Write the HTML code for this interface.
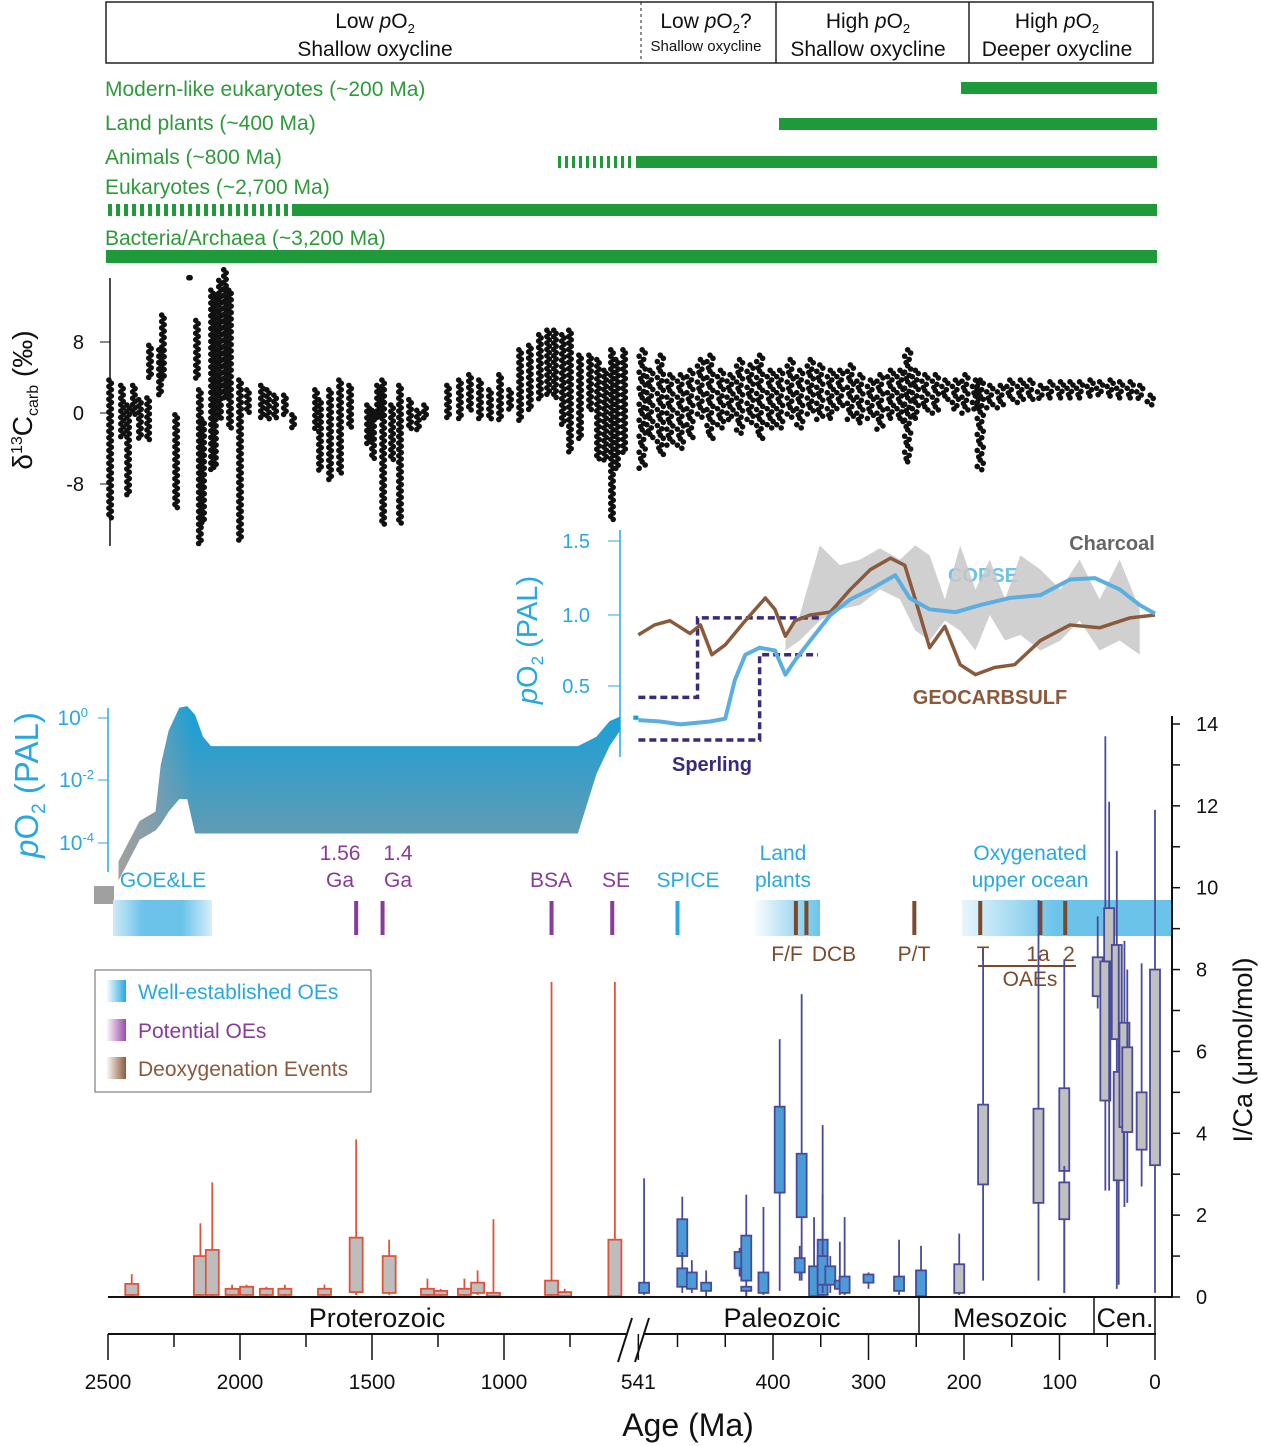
<!DOCTYPE html>
<html><head><meta charset="utf-8"><style>
html,body{margin:0;padding:0;background:#fff;}
svg{display:block;font-family:"Liberation Sans",sans-serif;}
</style></head><body>
<svg id="c" width="1261" height="1446" viewBox="0 0 1261 1446" xmlns="http://www.w3.org/2000/svg">
<defs>
<linearGradient id="pg" x1="0" y1="0" x2="0" y2="1"><stop offset="0" stop-color="#14a0d8"/><stop offset="1" stop-color="#7d9aa8"/></linearGradient>
<linearGradient id="gl" x1="0" y1="0" x2="1" y2="0"><stop offset="0" stop-color="#a0a0a0"/><stop offset="0.15" stop-color="#a0a0a0" stop-opacity="0"/></linearGradient>
<linearGradient id="oeA" x1="0" y1="0" x2="1" y2="0"><stop offset="0" stop-color="#cfeaf7"/><stop offset="0.3" stop-color="#6cc3ea"/><stop offset="0.7" stop-color="#6cc3ea"/><stop offset="1" stop-color="#d8eff9"/></linearGradient>
<linearGradient id="oeB" x1="0" y1="0" x2="1" y2="0"><stop offset="0" stop-color="#ffffff"/><stop offset="1" stop-color="#6cc3ea"/></linearGradient>
<linearGradient id="oeC" x1="0" y1="0" x2="1" y2="0"><stop offset="0" stop-color="#e8f6fc"/><stop offset="0.45" stop-color="#6cc3ea"/><stop offset="1" stop-color="#6cc3ea"/></linearGradient>
<linearGradient id="lgA" x1="0" y1="0" x2="1" y2="0"><stop offset="0" stop-color="#ffffff"/><stop offset="1" stop-color="#29a8e0"/></linearGradient>
<linearGradient id="lgB" x1="0" y1="0" x2="1" y2="0"><stop offset="0" stop-color="#ffffff"/><stop offset="1" stop-color="#9a4aa8"/></linearGradient>
<linearGradient id="lgC" x1="0" y1="0" x2="1" y2="0"><stop offset="0" stop-color="#ffffff"/><stop offset="1" stop-color="#8b5a3c"/></linearGradient>
</defs>

<g font-size="21" fill="#111" text-anchor="middle">
<rect x="106" y="2" width="1047" height="61" fill="none" stroke="#222" stroke-width="1.5"/>
<line x1="641" y1="2" x2="641" y2="63" stroke="#222" stroke-dasharray="3,3"/>
<line x1="776" y1="2" x2="776" y2="63" stroke="#222" stroke-width="1.5"/>
<line x1="969" y1="2" x2="969" y2="63" stroke="#222" stroke-width="1.5"/>
<text x="375" y="28">Low <tspan font-style="italic">p</tspan>O<tspan font-size="13" dy="5">2</tspan></text>
<text x="375" y="56">Shallow oxycline</text>
<text x="706" y="28">Low <tspan font-style="italic">p</tspan>O<tspan font-size="13" dy="5">2</tspan><tspan dy="-5">?</tspan></text>
<text x="706" y="51" font-size="15">Shallow oxycline</text>
<text x="868" y="28">High <tspan font-style="italic">p</tspan>O<tspan font-size="13" dy="5">2</tspan></text>
<text x="868" y="56">Shallow oxycline</text>
<text x="1057" y="28">High <tspan font-style="italic">p</tspan>O<tspan font-size="13" dy="5">2</tspan></text>
<text x="1057" y="56">Deeper oxycline</text>
</g>

<g font-size="21" fill="#2e9b3a">
<text x="105" y="96">Modern-like eukaryotes (~200 Ma)</text>
<text x="105" y="130">Land plants (~400 Ma)</text>
<text x="105" y="164">Animals (~800 Ma)</text>
<text x="105" y="194">Eukaryotes (~2,700 Ma)</text>
<text x="105" y="245">Bacteria/Archaea (~3,200 Ma)</text>
<rect x="961" y="82" width="196" height="12" fill="#1e9a3a"/>
<rect x="779" y="118" width="378" height="12" fill="#1e9a3a"/>
<line x1="558" y1="162" x2="635" y2="162" stroke="#1e9a3a" stroke-width="12" stroke-dasharray="3,4"/>
<rect x="636" y="156" width="521" height="12" fill="#1e9a3a"/>
<line x1="108" y1="210" x2="290" y2="210" stroke="#1e9a3a" stroke-width="12" stroke-dasharray="4,4"/>
<rect x="292" y="204" width="865" height="12" fill="#1e9a3a"/>
<rect x="106" y="250" width="1051" height="13" fill="#1e9a3a"/>
</g>

<g id="d13">
<line x1="110" y1="278" x2="110" y2="546" stroke="#111" stroke-width="1.5"/>
<g font-size="20" fill="#111" text-anchor="end">
<line x1="100" y1="342" x2="110" y2="342" stroke="#111"/><text x="84" y="349">8</text>
<line x1="100" y1="413" x2="110" y2="413" stroke="#111"/><text x="84" y="420">0</text>
<line x1="100" y1="484" x2="110" y2="484" stroke="#111"/><text x="84" y="491">-8</text>
</g>
<text transform="translate(32,400) rotate(-90)" text-anchor="middle" font-size="28" fill="#111">δ<tspan font-size="16" dy="-10">13</tspan><tspan dy="10">C</tspan><tspan font-size="16" dy="6">carb</tspan><tspan dy="-6"> (‰)</tspan></text>
</g>

<g id="po2">
<line x1="620" y1="530" x2="620" y2="757" stroke="#29a8e0" stroke-width="1.5"/>
<g font-size="20" fill="#29a8e0" text-anchor="end">
<line x1="608" y1="541" x2="620" y2="541" stroke="#29a8e0"/><text x="590" y="548">1.5</text>
<line x1="608" y1="615" x2="620" y2="615" stroke="#29a8e0"/><text x="590" y="622">1.0</text>
<line x1="608" y1="686" x2="620" y2="686" stroke="#29a8e0"/><text x="590" y="693">0.5</text>
</g>
<text transform="translate(537,640) rotate(-90)" text-anchor="middle" font-size="29" fill="#29a8e0"><tspan font-style="italic">p</tspan>O<tspan font-size="17" dy="6">2</tspan><tspan dy="-6"> (PAL)</tspan></text>
<line x1="108" y1="708" x2="108" y2="872" stroke="#29a8e0" stroke-width="1.5"/>
<g font-size="21" fill="#29a8e0" text-anchor="end">
<line x1="98" y1="718" x2="108" y2="718" stroke="#29a8e0"/><text x="88" y="725">10<tspan font-size="13" dy="-8">0</tspan></text>
<line x1="98" y1="780" x2="108" y2="780" stroke="#29a8e0"/><text x="94" y="787">10<tspan font-size="13" dy="-8">-2</tspan></text>
<line x1="98" y1="843" x2="108" y2="843" stroke="#29a8e0"/><text x="94" y="850">10<tspan font-size="13" dy="-8">-4</tspan></text>
</g>
<text transform="translate(38,785) rotate(-90)" text-anchor="middle" font-size="33" fill="#29a8e0"><tspan font-style="italic">p</tspan>O<tspan font-size="19" dy="7">2</tspan><tspan dy="-7"> (PAL)</tspan></text>
<rect x="94" y="886" width="20" height="18" fill="#a0a0a0"/>
<text x="1112" y="550" font-size="20" font-weight="bold" fill="#666" text-anchor="middle">Charcoal</text>
<text x="983" y="582" font-size="20" font-weight="bold" fill="#6cc3ea" text-anchor="middle">COPSE</text>
<text x="990" y="704" font-size="20" font-weight="bold" fill="#8b5a3c" text-anchor="middle">GEOCARBSULF</text>
<text x="712" y="771" font-size="20" font-weight="bold" fill="#3a2a7a" text-anchor="middle">Sperling</text>
</g>

<g id="oe">
<rect x="113" y="900" width="99" height="36" fill="url(#oeA)"/>
<rect x="752" y="900" width="68" height="36" fill="url(#oeB)"/>
<rect x="962" y="900" width="210" height="36" fill="url(#oeC)"/>
<g font-size="21" text-anchor="middle">
<text x="163" y="887" fill="#29a8e0">GOE&amp;LE</text>
<text x="340" y="860" fill="#8a3a9a">1.56</text><text x="340" y="887" fill="#8a3a9a">Ga</text>
<text x="398" y="860" fill="#8a3a9a">1.4</text><text x="398" y="887" fill="#8a3a9a">Ga</text>
<text x="551" y="887" fill="#8a3a9a">BSA</text>
<text x="616" y="887" fill="#8a3a9a">SE</text>
<text x="688" y="887" fill="#29a8e0">SPICE</text>
<text x="783" y="860" fill="#29a8e0">Land</text><text x="783" y="887" fill="#29a8e0">plants</text>
<text x="1030" y="860" fill="#29a8e0">Oxygenated</text><text x="1030" y="887" fill="#29a8e0">upper ocean</text>
<text x="787" y="961" fill="#7a4a2a">F/F</text>
<text x="834" y="961" fill="#7a4a2a">DCB</text>
<text x="914" y="961" fill="#7a4a2a">P/T</text>
<text x="983" y="961" fill="#7a4a2a">T</text>
<text x="1038" y="961" fill="#7a4a2a">1a</text>
<text x="1069" y="961" fill="#7a4a2a">2</text>
<text x="1030" y="986" fill="#7a4a2a">OAEs</text>
</g>
<line x1="978" y1="966" x2="1076" y2="966" stroke="#7a4a2a" stroke-width="2"/>
</g>

<g font-size="21">
<rect x="95" y="970" width="276" height="122" fill="#fff" stroke="#666"/>
<rect x="106" y="980" width="20" height="22" fill="url(#lgA)"/>
<text x="138" y="999" fill="#29a8e0">Well-established OEs</text>
<rect x="106" y="1019" width="20" height="22" fill="url(#lgB)"/>
<text x="138" y="1038" fill="#8a3a9a">Potential OEs</text>
<rect x="106" y="1057" width="20" height="22" fill="url(#lgC)"/>
<text x="138" y="1076" fill="#8b5a3c">Deoxygenation Events</text>
</g>

<g id="ica"></g>

<g fill="#111">
<line x1="108" y1="1297" x2="1172" y2="1297" stroke="#111" stroke-width="2"/>
<line x1="919" y1="1297" x2="919" y2="1333" stroke="#111" stroke-width="1.5"/>
<line x1="1094" y1="1297" x2="1094" y2="1333" stroke="#111" stroke-width="1.5"/>
<line x1="1155" y1="1297" x2="1155" y2="1333" stroke="#111" stroke-width="1.5"/>
<g font-size="27" text-anchor="middle">
<text x="377" y="1327">Proterozoic</text>
<text x="782" y="1327">Paleozoic</text>
<text x="1010" y="1327">Mesozoic</text>
<text x="1125" y="1327">Cen.</text>
</g>
<line x1="108" y1="1334" x2="626" y2="1334" stroke="#111" stroke-width="2"/>
<line x1="643" y1="1334" x2="1156" y2="1334" stroke="#111" stroke-width="2"/>
<line x1="618" y1="1362" x2="632" y2="1318" stroke="#111" stroke-width="2"/>
<line x1="635" y1="1362" x2="649" y2="1318" stroke="#111" stroke-width="2"/>
<g id="ticks"></g>
<text x="688" y="1436" font-size="32" text-anchor="middle">Age (Ma)</text>
</g>
</svg>
<script>
const d13Ages=[2492,2447,2424,2402,2379,2348,2341,2303,2292,2242,2189,2163,2152,2140,2106,2095,2076,2057,2038,2000,1970,1917,1894,1867,1830,1799,1712,1697,1659,1621,1583,1515,1496,1477,1458,1424,1394,1356,1326,1299,1212,1167,1129,1091,1053,1015,977,939,902,864,833,807,777,750,712,674,644,617,591,572,545,
537,529,518,508,497,487,476,466,455,445,435,424,414,403,393,382,372,361,351,340,330,319,309,298,288,277,267,259,251,241,230,220,209,199,188,183,173,162,152,141,131,120,110,99,89,79,68,58,47,37,26,16,5];
const d13Hi=[3.7,3.1,0.9,3.1,1.5,1.7,7.6,7.1,11.0,-0.2,15.2,10.4,2.6,-0.8,13.8,13.3,14.9,16.1,13.8,3.7,2.6,3.1,2.6,2.0,2.0,-0.2,2.6,1.5,2.6,3.7,3.1,0.9,0.3,3.1,3.7,0.9,3.1,1.5,0.3,0.9,3.1,3.7,4.3,3.7,2.6,4.3,2.6,7.1,7.6,8.8,9.3,9.3,8.8,9.3,6.5,6.5,6.0,4.8,7.1,6.0,7.1,
7.1,4.8,6.5,4.3,4.3,4.8,6.0,6.5,4.8,4.3,6.0,5.4,6.5,4.8,4.8,6.0,4.8,6.0,5.4,4.8,4.8,5.4,4.3,3.7,4.3,4.8,4.8,7.1,4.8,4.3,4.3,3.7,3.7,4.3,3.7,3.7,3.1,3.1,3.7,3.7,3.7,3.1,3.5,3.5,3.5,3.5,3.7,3.5,3.7,3.5,3.5,3.1,2.0];
const d13Lo=[-12.0,-3.0,-9.2,-0.2,-3.0,-3.0,3.7,2.0,3.7,-10.9,15.2,3.7,-14.8,-12.6,-6.4,-6.4,-0.8,1.5,-1.9,-14.3,-0.2,-0.8,-0.8,-0.8,-0.2,-1.9,-1.9,-6.4,-7.5,-7.0,-1.9,-3.6,-5.3,-0.8,-12.6,-5.3,-12.6,-1.9,-1.9,-0.8,-0.8,-0.8,0.3,-0.8,-0.8,-0.8,0.3,-0.8,0.3,1.5,2.0,1.5,-1.3,-4.7,-3.0,0.3,-5.3,-5.3,-12.0,-6.4,-4.7,
-6.4,-3.0,-4.7,-3.6,-4.2,-3.0,-0.8,-3.0,-1.9,-0.8,-2.5,-1.3,-3.0,-1.9,-1.9,-0.8,-1.9,-0.2,-0.8,-0.8,0.3,-0.8,-1.3,-0.8,-1.9,-0.8,-1.3,-5.8,-0.8,0.3,-0.2,1.5,0.3,-0.2,0.3,-6.4,0.3,0.3,1.5,0.9,1.5,1.5,1.5,1.7,1.7,1.7,1.7,1.9,1.7,1.7,1.7,1.5,0.9,-0.2];

const pProfAges=[2460,2380,2320,2300,2270,2230,2200,2170,2140,2110,720,650,600,560];
const pProfTop=[-4.6,-3.3,-3.0,-1.5,-0.4,0.33,0.38,0.1,-0.6,-0.9,-0.9,-0.6,-0.1,0.05];
const pProfBot=[-5.2,-3.9,-3.6,-3.4,-3.0,-2.6,-2.6,-3.7,-3.7,-3.7,-3.7,-1.8,-0.9,-0.4];
const pPhanTop=0.32, pPhanBot=0.22;

const copseAges=[541,518,497,466,450,440,429,414,398,387,377,361,340,319,298,272,257,236,209,183,152,120,89,63,37,16,0];
const copseVals=[0.26,0.25,0.23,0.25,0.27,0.54,0.72,0.77,0.75,0.58,0.68,0.82,1.0,1.11,1.18,1.28,1.12,1.04,1.02,1.07,1.12,1.14,1.25,1.26,1.18,1.07,1.01];
const geoAges=[541,524,508,487,476,464,450,429,408,398,387,377,361,340,319,298,277,262,251,236,220,204,188,168,147,120,89,58,26,0];
const geoVals=[0.86,0.93,0.96,0.87,0.93,0.72,0.79,0.96,1.12,1.04,0.85,0.96,1.0,1.02,1.18,1.32,1.40,1.35,1.11,0.77,0.92,0.65,0.58,0.63,0.65,0.82,0.93,0.91,0.98,1.0];
const charAges=[387,372,351,330,309,288,267,251,236,220,204,188,173,157,141,120,99,79,58,37,16];
const charHi=[0.82,1.0,1.49,1.35,1.39,1.47,1.39,1.49,1.42,1.11,1.49,1.18,1.39,1.11,1.42,1.32,1.18,1.39,1.11,1.39,1.04];
const charLo=[0.75,0.82,0.96,1.04,1.07,1.18,1.11,0.89,0.82,0.96,0.89,0.75,1.0,0.82,0.86,0.75,0.82,0.96,0.75,0.82,0.72];
const sperUAges=[541,479,479,351], sperUVals=[0.42,0.42,0.98,0.98];
const sperLAges=[541,414,414,353], sperLVals=[0.12,0.12,0.72,0.72];

const oeLineAges=[1560,1460,820,590,500,376,365,252,183,120,94];
const oeLineType=['p','p','p','p','b','d','d','d','d','d','d'];

const boxAges=[2410,2150,2105,2030,1975,1900,1830,1680,1560,1435,1290,1240,1150,1100,1040,820,770,580,
535,495,495,485,470,435,428,428,410,393,370,372,357,348,348,340,330,325,300,268,245,205,
180,122,95,95,60,52,48,40,38,32,29,14,0];
const boxQ1=[0.05,0.05,0.05,0.05,0.05,0.05,0.05,0.05,0.12,0.1,0.05,0.05,0.05,0.1,0.02,0.05,0.02,0.02,
0.1,1.0,0.25,0.2,0.15,0.7,0.4,0.15,0.1,2.55,1.95,0.6,0.02,0.05,0.3,0.3,0.2,0.1,0.35,0.15,0.02,0.1,
2.75,2.3,3.08,1.9,7.35,4.8,8.2,6.3,2.85,4.15,4.03,3.6,3.22];
const boxQ3=[0.32,1.0,1.15,0.2,0.25,0.2,0.2,0.2,1.45,1.0,0.2,0.15,0.2,0.35,0.1,0.4,0.12,1.4,
0.35,1.9,0.7,0.6,0.35,1.1,1.5,0.25,0.6,4.65,3.5,0.95,0.75,1.4,1.0,0.75,0.4,0.5,0.55,0.5,0.65,0.8,
4.7,4.6,5.1,2.8,8.3,8.2,9.5,8.6,5.5,6.7,6.1,5.0,8.0];
const boxMin=[0.02,0.02,0.02,0.02,0.02,0.02,0.02,0.02,0.05,0.05,0.02,0.02,0.02,0.05,0.0,0.0,0.0,0.0,
0.05,0.9,0.1,0.1,0.0,0.5,0.0,0.0,0.05,0.15,0.4,0.4,0.0,0.0,0.1,0.1,0.05,0.05,0.2,0.05,0.0,0.05,
0.4,0.4,0.1,0.1,7.05,2.6,2.6,0.2,0.3,2.2,2.3,2.7,0.1];
const boxMax=[0.56,1.8,2.8,0.3,0.3,0.25,0.3,0.3,3.85,1.4,0.45,0.2,0.45,0.65,1.9,7.7,0.2,7.7,
2.9,2.45,1.1,0.9,0.65,1.2,2.5,0.3,2.2,6.3,7.4,1.25,1.95,4.2,2.5,1.0,1.35,1.95,0.6,1.4,1.25,1.55,
8.5,9.7,8.25,3.2,9.3,13.7,12.1,10.9,8.6,8.7,8.0,8.15,11.9];
const boxGroup=['r','r','r','r','r','r','r','r','r','r','r','r','r','r','r','r','r','r',
'b','b','b','b','b','b','b','b','b','b','b','b','b','b','b','b','b','b','b','b','b','g',
'g','g','g','g','g','g','g','g','g','g','g','g','g'];

const icaTicks=[0,2,4,6,8,10,12,14];
const xTickVals=[2500,2000,1500,1000,541,400,300,200,100,0];
const xTickLabels=['2500','2000','1500','1000','541','400','300','200','100','0'];
const xMinor=[2250,1750,1250,750,500,450,350,250,150,50];

function xA(a){return a>541? 108+(2500-a)*0.264 : 1155-a*0.955;}
function yD(v){return 413-v*8.9;}
function yL(l){return 718-l*31.2;}
function yP(v){return 615-(v-1)*142;}
function yI(v){return 1297-v*40.93;}
const NS='http://www.w3.org/2000/svg';
function mk(parent,tag,attrs){const e=document.createElementNS(NS,tag);for(const k in attrs)e.setAttribute(k,attrs[k]);parent.appendChild(e);return e;}

const d13=document.getElementById('d13');
for(let i=0;i<d13Ages.length;i++){
  const x=xA(d13Ages[i]);const y1=yD(d13Hi[i]),y2=yD(d13Lo[i]);
  const ph=d13Ages[i]<=541;
  const g=mk(d13,'g',{fill:'#111'});
  
  
  let k=0;
  for(let y=y1;y<=y2+0.1;y+=3.2){
    const jx=ph?([0,3,-3,1.5,-1.5][k%5]):((k%2)?1.2:-1.2);
    mk(g,'circle',{cx:x+jx,cy:y,r:2.8});k++;
  }
  if(y2-y1<1) mk(g,'circle',{cx:x,cy:y1,r:2.8});
}

const po2=document.getElementById('po2');
let dp='M'+xA(pProfAges[0])+','+yL(pProfTop[0]);
for(let i=1;i<pProfAges.length;i++)dp+=' L'+xA(pProfAges[i])+','+yL(pProfTop[i]);
for(let i=pProfAges.length-1;i>=0;i--)dp+=' L'+xA(pProfAges[i])+','+yL(pProfBot[i]);
dp+='Z';
const prof=mk(po2,'path',{d:dp,fill:'url(#pg)'});


const prof2=mk(po2,'path',{d:dp,fill:'url(#gl)'});


const ph=mk(po2,'path',{d:'M'+xA(541)+','+(yP(pPhanTop)+4)+' L'+(xA(541)-5)+','+(yP(pPhanTop)+4)+' L'+(xA(541)-5)+','+(yP(pPhanBot)-6)+' L'+xA(541)+','+(yP(pPhanBot)-6)+'Z',fill:'#14a0d8'});



let dc='M'+xA(charAges[0])+','+yP(charHi[0]);
for(let i=1;i<charAges.length;i++)dc+=' L'+xA(charAges[i])+','+yP(charHi[i]);
for(let i=charAges.length-1;i>=0;i--)dc+=' L'+xA(charAges[i])+','+yP(charLo[i]);
dc+='Z';
const ch=mk(po2,'path',{d:dc,fill:'#c8c8c8',opacity:'0.85'});


function line(ages,vals,attrs,name){let d='';for(let i=0;i<ages.length;i++)d+=(i?' L':'M')+xA(ages[i])+','+yP(vals[i]);attrs.d=d;attrs.fill='none';const p=mk(po2,'path',attrs);}
line(sperUAges,sperUVals,{stroke:'#3a2a7a','stroke-width':3.5,'stroke-dasharray':'7,4'},'sperling-upper');
line(sperLAges,sperLVals,{stroke:'#3a2a7a','stroke-width':3.5,'stroke-dasharray':'7,4'},'sperling-lower');
line(geoAges,geoVals,{stroke:'#8b5a3c','stroke-width':3.5,'stroke-linejoin':'round'},'geocarbsulf-line');
line(copseAges,copseVals,{stroke:'#5aaee0','stroke-width':4,'stroke-linejoin':'round'},'copse-line');

const oe=document.getElementById('oe');
const oeCol={p:'#8a3a9a',b:'#29a8e0',d:'#7a4a2a'};
for(let i=0;i<oeLineAges.length;i++){
  const x=xA(oeLineAges[i]);
  const l=mk(oe,'line',{x1:x,y1:901,x2:x,y2:935,stroke:oeCol[oeLineType[i]],'stroke-width':4});
  
  
}

const ica=document.getElementById('ica');
const boxStyle={r:{fill:'#bdbdbd',stroke:'#e0533a'},b:{fill:'#4a9bd6',stroke:'#4a4a9a'},g:{fill:'#c0c0c0',stroke:'#4a4a9a'}};
for(let i=0;i<boxAges.length;i++){
  const x=xA(boxAges[i]);const s=boxStyle[boxGroup[i]];
  const w=boxGroup[i]==='r'?13:10;
  const g=mk(ica,'g',{});
  
  
  mk(g,'line',{x1:x,y1:yI(boxMax[i]),x2:x,y2:yI(boxMin[i]),stroke:s.stroke,'stroke-width':1.8});
  mk(g,'rect',{x:x-w/2,y:yI(boxQ3[i]),width:w,height:Math.max(2,yI(boxQ1[i])-yI(boxQ3[i])),fill:s.fill,stroke:s.stroke,'stroke-width':1.8});
}
mk(ica,'line',{x1:1172,y1:716,x2:1172,y2:1298,stroke:'#111','stroke-width':2});
for(let v=0;v<=14;v++){mk(ica,'line',{x1:1172,y1:yI(v),x2:1180,y2:yI(v),stroke:'#111','stroke-width':1.5});}
for(let i=0;i<icaTicks.length;i++){
  const t=mk(ica,'text',{x:1196,y:yI(icaTicks[i])+7,'font-size':20,fill:'#111'});
  
  
  t.textContent=icaTicks[i];
}
const it=mk(ica,'text',{transform:'translate(1252,1050) rotate(-90)','text-anchor':'middle','font-size':27,fill:'#111'});


it.textContent='I/Ca (μmol/mol)';

const tk=document.getElementById('ticks');
for(let i=0;i<xTickVals.length;i++){
  const x=xA(xTickVals[i]);
  mk(tk,'line',{x1:x,y1:1334,x2:x,y2:1360,stroke:'#111','stroke-width':1.5});
  const t=mk(tk,'text',{x:x,y:1389,'font-size':21,'text-anchor':'middle',fill:'#111'});
  
  
  t.textContent=xTickLabels[i];
}
for(let i=0;i<xMinor.length;i++){const x=xA(xMinor[i]);mk(tk,'line',{x1:x,y1:1334,x2:x,y2:1347,stroke:'#111','stroke-width':1.5});}
</script>
</body></html>
